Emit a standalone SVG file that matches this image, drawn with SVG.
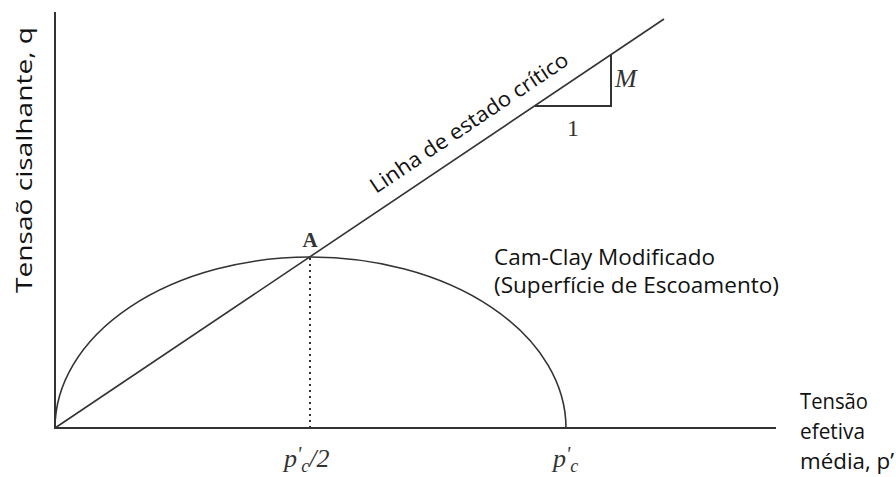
<svg xmlns="http://www.w3.org/2000/svg" width="896" height="477" viewBox="0 0 896 477">
<style>
.ax{stroke:#333;stroke-width:2;fill:none}
.ln{stroke:#333;stroke-width:1.6;fill:none}
.sans{font-family:"Open Sans","Liberation Sans",sans-serif;font-size:21px;fill:#111}
.ser{font-family:"Liberation Serif",serif;font-size:26px;fill:#333;font-style:italic}
</style>
<rect width="896" height="477" fill="#fff"/>
<g id="axes">
<line class="ax" x1="55" y1="12" x2="55" y2="429"/>
<line class="ax" x1="54" y1="428" x2="776" y2="428"/>
</g>
<g id="connectors">
<line class="ln" x1="55" y1="428" x2="664" y2="19"/>
<path class="ln" d="M55,428 A255.5,171 0 0 1 566,428"/>
<line x1="310" y1="258" x2="310" y2="428" stroke="#333" stroke-width="2" stroke-dasharray="2,4"/>
<polyline class="ax" points="535,106 611,106 611,55"/>
</g>
<g id="labels">
<text class="sans" transform="translate(32,160) rotate(-90)" text-anchor="middle" textLength="266" lengthAdjust="spacingAndGlyphs">Tensaõ cisalhante, q</text>
<text class="sans" transform="translate(376,194) rotate(-33.9)" textLength="234" lengthAdjust="spacingAndGlyphs">Linha de estado crítico</text>
<text x="615" y="87" class="ser" font-size="24">M</text>
<text x="567" y="136" font-family="Liberation Serif,serif" font-size="24" fill="#333">1</text>
<text x="310" y="247" text-anchor="middle" font-family="Liberation Serif,serif" font-size="21" font-weight="bold" fill="#333">A</text>
<text x="494" y="265" class="sans" textLength="221" lengthAdjust="spacingAndGlyphs">Cam-Clay Modificado</text>
<text x="494" y="293" class="sans" textLength="285" lengthAdjust="spacingAndGlyphs">(Superfície de Escoamento)</text>
<text x="800" y="409" class="sans" textLength="68" lengthAdjust="spacingAndGlyphs">Tensão</text>
<text x="800" y="439" class="sans" textLength="65" lengthAdjust="spacingAndGlyphs">efetiva</text>
<text x="800" y="469" class="sans" textLength="94" lengthAdjust="spacingAndGlyphs">média, p’</text>
<text x="284" y="467" class="ser">p<tspan font-size="20" dy="-6">'</tspan><tspan font-size="18" dy="11">c</tspan><tspan dy="-5">/2</tspan></text>
<text x="553" y="467" class="ser">p<tspan font-size="20" dy="-6">'</tspan><tspan font-size="18" dy="11">c</tspan></text>
</g>
</svg>
